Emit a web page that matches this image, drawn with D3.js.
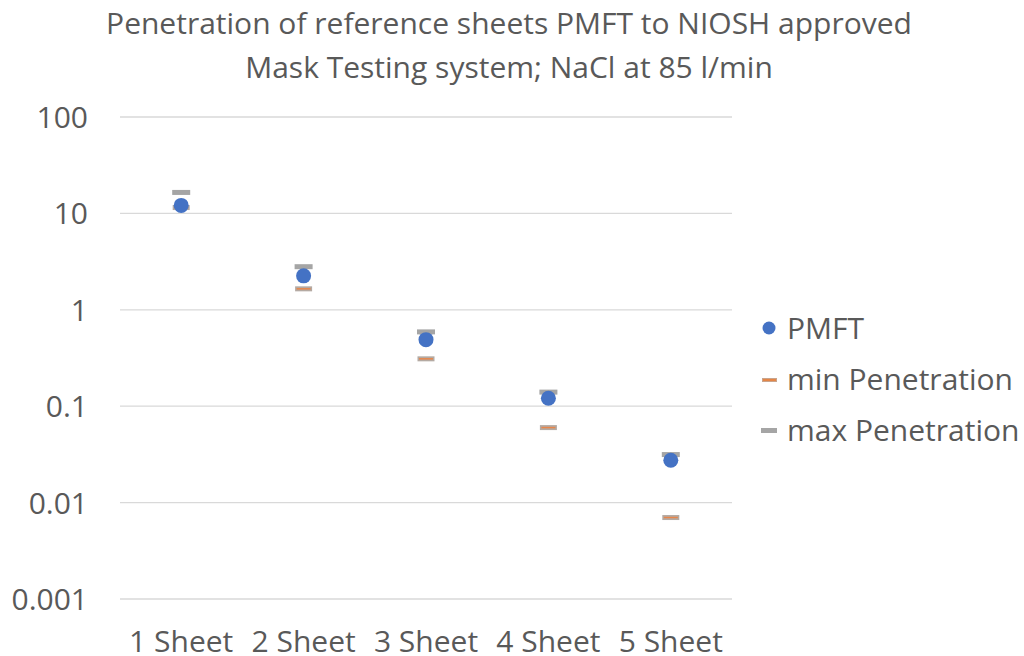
<!DOCTYPE html>
<html>
<head>
<meta charset="utf-8">
<script src="https://cdn.jsdelivr.net/npm/d3@7"></script>
<style>
  body { margin: 0; background: #fff; }
  text { font-family: "Open Sans", Lato, sans-serif; fill: #595959; }
</style>
</head>
<body>
<svg id="chart" width="1024" height="656"></svg>
<script>
// chart data
var categories = ["1 Sheet", "2 Sheet", "3 Sheet", "4 Sheet", "5 Sheet"];
var pmft = [12.1, 2.25, 0.49, 0.121, 0.0275];
var minPen = [11.5, 1.65, 0.31, 0.06, 0.007];
var maxPen = [16.5, 2.8, 0.59, 0.14, 0.0315];
var yTicks = [100, 10, 1, 0.1, 0.01, 0.001];
var titleLines = ["Penetration of reference sheets PMFT to NIOSH approved", "Mask Testing system; NaCl at 85 l/min"];

var svg = d3.select("#chart");
var plotLeft = 120, plotRight = 732, plotTop = 117, plotBottom = 599;

var x = d3.scaleBand().domain(categories).range([plotLeft, plotRight]);
var y = d3.scaleLog().domain([0.001, 100]).range([plotBottom, plotTop]);

// title
svg.selectAll("text.title").data(titleLines).enter().append("text")
  .attr("class", "title")
  .attr("x", 509)
  .attr("y", function(d, i) { return 34 + i * 44; })
  .attr("text-anchor", "middle")
  .style("font-size", "30px")
  .text(function(d) { return d; });

// gridlines
svg.selectAll("line.grid").data(yTicks).enter().append("line")
  .attr("x1", plotLeft).attr("x2", plotRight)
  .attr("y1", function(d) { return y(d); })
  .attr("y2", function(d) { return y(d); })
  .attr("stroke", "#d9d9d9").attr("stroke-width", 1.3);

// y labels
svg.selectAll("text.ylab").data(yTicks).enter().append("text")
  .attr("x", 88)
  .attr("y", function(d) { return y(d) + 11; })
  .attr("text-anchor", "end")
  .style("font-size", "30px")
  .text(function(d) { return String(d); });

// x labels
svg.selectAll("text.xlab").data(categories).enter().append("text")
  .attr("x", function(d) { return x(d) + x.bandwidth() / 2; })
  .attr("y", 652)
  .attr("text-anchor", "middle")
  .style("font-size", "30px")
  .text(function(d) { return d; });

function cx(i) { return x(categories[i]) + x.bandwidth() / 2; }

// max dashes
svg.selectAll("rect.max").data(maxPen).enter().append("rect")
  .attr("x", function(d, i) { return cx(i) - 9; })
  .attr("y", function(d) { return y(d) - 2.5; })
  .attr("width", 18).attr("height", 5)
  .attr("fill", "#a5a5a5");

// min dashes: gray dash with a thin orange core
var minG = svg.selectAll("g.min").data(minPen).enter().append("g").attr("class", "min");
minG.append("rect")
  .attr("x", function(d, i) { return cx(i) - 8.5; })
  .attr("y", function(d) { return y(d) - 2.5; })
  .attr("width", 17).attr("height", 5)
  .attr("fill", "#b4aaa3");
minG.append("line")
  .attr("x1", function(d, i) { return cx(i) - 7; })
  .attr("x2", function(d, i) { return cx(i) + 7; })
  .attr("y1", function(d) { return y(d); })
  .attr("y2", function(d) { return y(d); })
  .attr("stroke", "#e8864a").attr("stroke-width", 1.5);

// PMFT points
svg.selectAll("circle.pmft").data(pmft).enter().append("circle")
  .attr("cx", function(d, i) { return cx(i); })
  .attr("cy", function(d) { return y(d); })
  .attr("r", 7.5)
  .attr("fill", "#4472c4");

// legend
var legend = svg.append("g");
legend.append("circle").attr("cx", 769).attr("cy", 328).attr("r", 6.5).attr("fill", "#4472c4");
legend.append("rect").attr("x", 762).attr("y", 378).attr("width", 15).attr("height", 4).attr("fill", "#c9a48c");
legend.append("line").attr("x1", 763).attr("x2", 776).attr("y1", 380).attr("y2", 380)
  .attr("stroke", "#ed7d31").attr("stroke-width", 1.5);
legend.append("rect").attr("x", 761).attr("y", 428).attr("width", 16).attr("height", 5).attr("fill", "#a5a5a5");
var legendNames = ["PMFT", "min Penetration", "max Penetration"];
legend.selectAll("text").data(legendNames).enter().append("text")
  .attr("x", 787)
  .attr("y", function(d, i) { return 339 + i * 51; })
  .style("font-size", "30px")
  .text(function(d) { return d; });
</script>
</body>
</html>
